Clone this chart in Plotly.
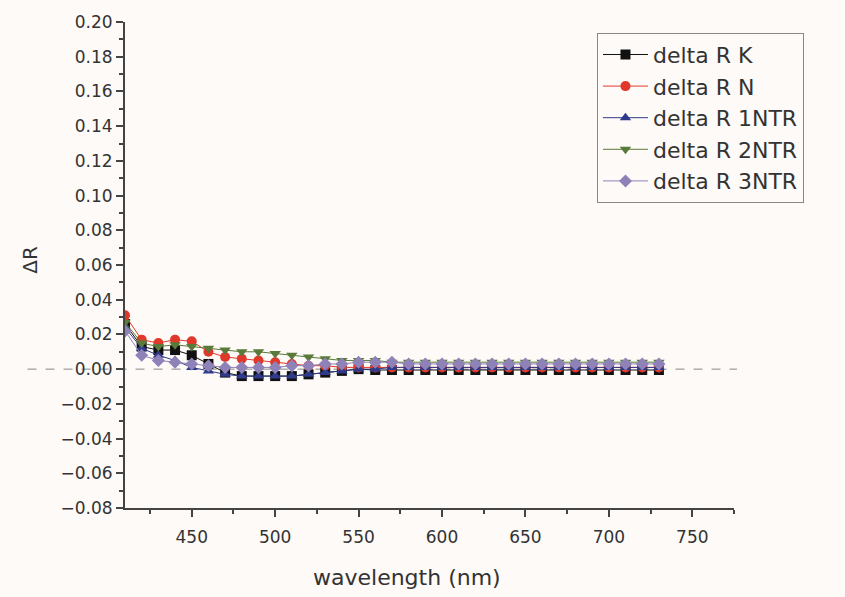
import plotly.graph_objects as go

wavelength = list(range(410, 731, 10))

delta_K = [0.026, 0.013, 0.011, 0.011, 0.008, 0.003, -0.002, -0.004, -0.004, -0.004,
           -0.004, -0.003, -0.002, -0.001, 0.000, -0.0005, -0.0005, -0.0005, -0.0005, -0.0005,
           -0.0005, -0.0005, -0.0005, -0.0005, -0.0005, -0.0005, -0.0005, -0.0005, -0.0005, -0.0005,
           -0.0005, -0.0005, -0.0005]
delta_N = [0.031, 0.017, 0.015, 0.017, 0.016, 0.010, 0.007, 0.006, 0.005, 0.004,
           0.003, 0.002, 0.002, 0.001, 0.001, 0.001, 0.001, 0.001, 0.001, 0.001,
           0.001, 0.001, 0.001, 0.001, 0.001, 0.001, 0.001, 0.001, 0.001, 0.001,
           0.001, 0.001, 0.001]
delta_1NTR = [0.024, 0.012, 0.008, 0.005, 0.001, -0.001, -0.003, -0.004, -0.004, -0.004,
              -0.004, -0.003, -0.002, -0.001, 0.000, 0.000, 0.001, 0.001, 0.001, 0.001,
              0.001, 0.001, 0.001, 0.001, 0.001, 0.001, 0.001, 0.001, 0.001, 0.001,
              0.001, 0.001, 0.001]
delta_2NTR = [0.027, 0.015, 0.013, 0.014, 0.013, 0.012, 0.011, 0.010, 0.010, 0.009,
              0.008, 0.007, 0.006, 0.005, 0.005, 0.005, 0.004, 0.004, 0.004, 0.004,
              0.004, 0.004, 0.004, 0.004, 0.004, 0.004, 0.004, 0.004, 0.004, 0.004,
              0.004, 0.004, 0.004]
delta_3NTR = [0.022, 0.008, 0.005, 0.004, 0.003, 0.002, 0.001, 0.001, 0.001, 0.001,
              0.002, 0.002, 0.003, 0.003, 0.004, 0.004, 0.004, 0.003, 0.003, 0.003,
              0.003, 0.003, 0.003, 0.003, 0.003, 0.003, 0.003, 0.003, 0.003, 0.003,
              0.003, 0.003, 0.003]

x_ticks = [450, 500, 550, 600, 650, 700, 750]

series = [
    ("delta R K", delta_K, "#111111", "square"),
    ("delta R N", delta_N, "#e0392b", "circle"),
    ("delta R 1NTR", delta_1NTR, "#2f3a8a", "triangle-up"),
    ("delta R 2NTR", delta_2NTR, "#5a7a3a", "triangle-down"),
    ("delta R 3NTR", delta_3NTR, "#8e82b8", "diamond"),
]

fig = go.Figure()
for i, (name, vals, color, sym) in enumerate(series):
    fig.add_trace(go.Scatter(
        x=wavelength, y=vals, name=name, mode="lines+markers",
        line=dict(color=color, width=1),
        marker=dict(symbol=sym, size=10, color=color),
    ))

fig.add_shape(type="line", xref="paper", yref="y", x0=-0.16, x1=1.005, y0=0, y1=0,
              line=dict(color="#888888", width=1, dash="dash"), layer="below")

FONT = "DejaVu Sans, Arial, sans-serif"
axis_font = dict(family=FONT, size=17, color="#333333")

fig.add_annotation(text="wavelength (nm)", xref="paper", yref="paper",
                   x=0.463, y=-0.143, xanchor="center", yanchor="middle",
                   showarrow=False, font=dict(family=FONT, size=22, color="#333333"))
fig.add_annotation(text="ΔR", xref="paper", yref="paper", textangle=-90,
                   x=-0.155, y=0.51, xanchor="center", yanchor="middle",
                   showarrow=False, font=dict(family=FONT, size=20, color="#333333"))

fig.update_layout(
    width=845, height=597,
    margin=dict(l=125, r=111, t=18, b=89),
    paper_bgcolor="#fdfaf7", plot_bgcolor="#fdfaf7",
    font=dict(family=FONT, color="#333333"),
    showlegend=True,
    legend=dict(
        x=0.775, y=0.978, xanchor="left", yanchor="top",
        bordercolor="#888888", borderwidth=1, bgcolor="#fdfaf7",
        font=dict(size=22, color="#333333"),
        itemwidth=45,
    ),
    xaxis=dict(
        range=[410, 775], showgrid=False, zeroline=False,
        showline=True, linecolor="#444444", linewidth=2,
        ticks="outside", ticklen=7, tickwidth=1.5, tickcolor="#444444",
        tickvals=x_ticks, ticklabelstandoff=6,
        minor=dict(ticks="outside", ticklen=4, tickcolor="#444444", dtick=25, tick0=425),
        tickfont=axis_font,
    ),
    yaxis=dict(
        range=[-0.08, 0.2], showgrid=False, zeroline=False,
        showline=True, linecolor="#444444", linewidth=2,
        ticks="outside", ticklen=7, tickwidth=1.5, tickcolor="#444444",
        dtick=0.02, tickformat=".2f",
        minor=dict(ticks="outside", ticklen=4, tickcolor="#444444", dtick=0.01),
        tickfont=axis_font,
    ),
)

fig.write_html("out.html")
